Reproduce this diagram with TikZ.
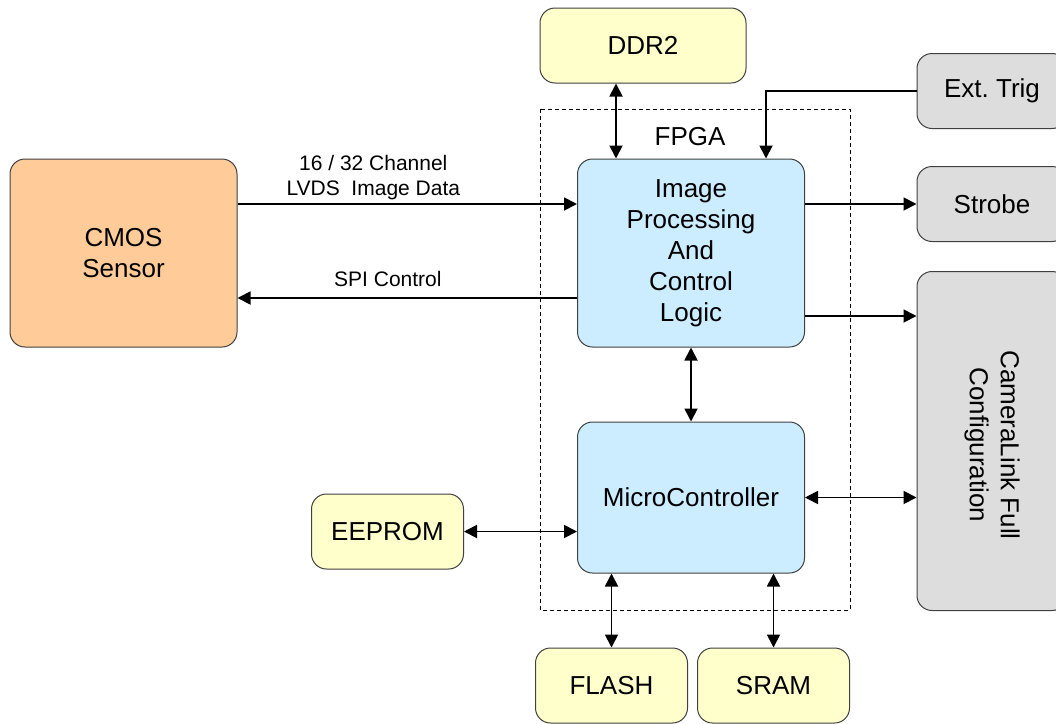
\documentclass[tikz,border=0pt]{standalone}
\usepackage{fontspec}
\setmainfont{Liberation Sans}
\usepackage{xcolor}
\usepackage{tikz}
\usetikzlibrary{positioning,arrows.meta}

\definecolor{sensororange}{HTML}{FFCC99}
\definecolor{memyellow}{HTML}{FFFFCC}
\definecolor{fpgablue}{HTML}{CCECFF}
\definecolor{iogrey}{HTML}{DDDDDD}
\definecolor{edgegrey}{HTML}{404040}

\begin{document}
\frenchspacing
\begin{tikzpicture}[x=1pt, y=-1pt, auto,
    block/.style={rectangle, rounded corners=15pt, draw=edgegrey, line width=1pt, align=center,
      font=\fontsize{26}{31}\selectfont, inner sep=2pt},
    sensorblock/.style={block, fill=sensororange, minimum width=227pt, minimum height=188pt},
    memblock/.style={block, fill=memyellow, minimum width=152pt, minimum height=75pt},
    logicblock/.style={block, fill=fpgablue, minimum width=227pt},
    ioblock/.style={block, fill=iogrey, minimum width=150pt},
    arrow/.style={-{Triangle[length=13pt,width=13pt]}, line width=1.8pt},
    biarrow/.style={{Triangle[length=13pt,width=13pt]}-{Triangle[length=13pt,width=13pt]}, line width=1.8pt},
    lbl/.style={font=\fontsize{21}{25}\selectfont, align=center}]

    \useasboundingbox (0,0) rectangle (1056,723);

    % FPGA boundary
    \draw[dashed, dash pattern=on 4pt off 3pt, line width=0.8pt] (540,109) rectangle (850,610);
    \node[font=\fontsize{26}{31}\selectfont] (fpga) at (690,137) {FPGA};

    \node[sensorblock] (cmos) at (123.5,253) {CMOS\\Sensor};
    \node[memblock, minimum width=206pt] (ddr) at (643,45.5) {DDR2};
    \node[logicblock, minimum height=188pt] (img) at (691,253) {Image\\Processing\\And\\Control\\Logic};
    \node[logicblock, minimum height=151pt] (mcu) at (691,497.5) {MicroController};
    \node[memblock] (eeprom) at (387.5,531.5) {EEPROM};
    \node[memblock] (flash) at (611.5,685.5) {FLASH};
    \node[memblock] (sram) at (773.5,685.5) {SRAM};

    \node[ioblock, minimum height=75pt] (trig) at (992,91) {Ext. Trig};
    \node[ioblock, minimum height=75pt] (strobe) at (992,204) {Strobe};
    \node[ioblock, minimum height=339pt] (cam) at (992,441) {};
    \node[rotate=-90, align=center, font=\fontsize{26}{31}\selectfont] (camtext) at ([yshift=-4pt]cam.center) {CameraLink Full\\Configuration};

    % sensor links
    \draw[arrow] ([yshift=49pt]cmos.east) coordinate (lvds) -- (lvds -| img.west)
        node[lbl, pos=0.4, above] {16 / 32 Channel\\LVDS~~Image Data};
    \draw[arrow] ([yshift=-45pt]img.west) coordinate (spi) -- (spi -| cmos.east)
        node[lbl, pos=0.557, above=7pt] {SPI Control};

    % memories
    \draw[biarrow] ([xshift=-27pt]ddr.south) -- ([xshift=-27pt]ddr.south |- img.north);
    \draw[biarrow] (img.south) -- (mcu.north);
    \draw[biarrow] (eeprom.east) -- (eeprom.east -| mcu.west);
    \draw[biarrow] (flash.north |- mcu.south) -- (flash.north);
    \draw[biarrow] (sram.north |- mcu.south) -- (sram.north);

    % camera I/O
    \draw[arrow] (trig.west) -| ([xshift=75pt]img.north);
    \draw[arrow] (img.east |- strobe.west) -- (strobe.west);
    \draw[arrow] ([yshift=-63pt]img.east) coordinate (cl) -- (cl -| cam.west);
    \draw[biarrow] (mcu.east) -- (mcu.east -| cam.west);
\end{tikzpicture}
\end{document}
